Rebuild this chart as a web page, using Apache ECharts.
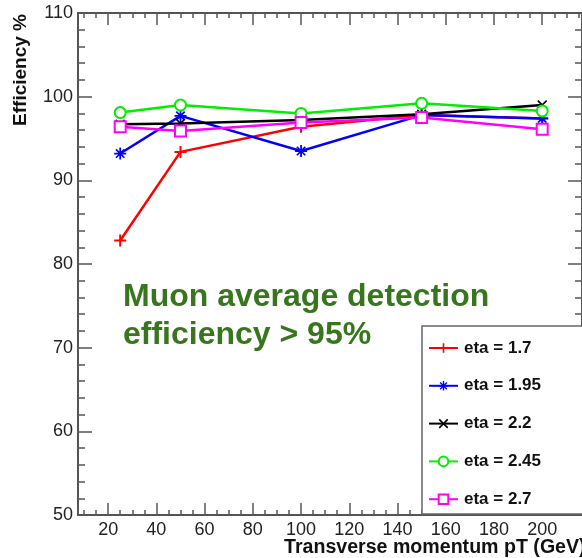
<!DOCTYPE html>
<html>
<head>
    <meta charset="utf-8">
    <title>Muon efficiency</title>
    <script src="https://cdn.jsdelivr.net/npm/echarts@6/dist/echarts.min.js"></script>
</head>
<body>
<div id="main"></div>
<style type="text/css">
    html, body {
        margin: 0px;
        padding: 0px;
        background: #fff
    }

    #main {
        width: 582px;
        height: 558px
    }
</style>

<script type="text/javascript">
    // data
    var momentum = [25, 50, 100, 150, 200];
    var eff17 = [82.8, 93.4, 96.4, 97.8, 97.4];
    var eff195 = [93.2, 97.7, 93.5, 97.8, 97.4];
    var eff22 = [96.7, 96.8, 97.2, 97.9, 99.0];
    var eff245 = [98.1, 99.0, 98.0, 99.2, 98.3];
    var eff27 = [96.4, 95.9, 96.9, 97.5, 96.1];
    var etaNames = ['eta = 1.7', 'eta = 1.95', 'eta = 2.2', 'eta = 2.45', 'eta = 2.7'];

    // tick labels
    var xMajor = [20, 40, 60, 80, 100, 120, 140, 160, 180, 200];
    var xMinor = [10, 15, 25, 30, 35, 45, 50, 55, 65, 70, 75, 85, 90, 95, 105, 110, 115,
        125, 130, 135, 145, 150, 155, 165, 170, 175, 185, 190, 195, 205, 210, 215];

    var FONT = '"Liberation Sans", Arial, Helvetica, sans-serif';
    var AXIS_COLOR = '#555';

    // marker shapes
    var plusPath = 'path://M5,0H7V5H12V7H7V12H5V7H0V5H5Z';
    var crossPath = 'path://M0,1.4L1.4,0L12,10.6L10.6,12ZM10.6,0L12,1.4L1.4,12L0,10.6Z';
    var starPath = 'path://M5.1,0H6.9V5.1H12V6.9H6.9V12H5.1V6.9H0V5.1H5.1Z' +
        'M1.2,2.4L2.4,1.2L10.8,9.6L9.6,10.8ZM9.6,1.2L10.8,2.4L2.4,10.8L1.2,9.6Z';

    function mkPoints(vals) {
        var res = [];
        for (var i = 0; i < momentum.length; i++) {
            res.push([momentum[i], vals[i]]);
        }
        return res;
    }

    function mkSeries(name, vals, color, symbol, size, bw) {
        return {
            name: name,
            type: 'line',
            data: mkPoints(vals),
            symbol: symbol,
            symbolSize: size,
            showAllSymbol: true,
            lineStyle: {color: color, width: 2.5},
            itemStyle: {color: color, borderColor: color, borderWidth: bw},
            emphasis: {disabled: true}
        };
    }

    function xAx(pos, vals, len, showLine, labels) {
        return {
            type: 'value',
            position: pos,
            min: 7.5,
            max: 216.5,
            axisLine: {show: showLine, lineStyle: {color: AXIS_COLOR, width: 2}},
            axisTick: {show: true, inside: true, length: len, customValues: vals,
                lineStyle: {color: AXIS_COLOR, width: 1.5}},
            axisLabel: labels ? {
                show: true, customValues: xMajor, margin: 6,
                fontSize: 18, color: '#222', fontFamily: FONT
            } : {show: false},
            splitLine: {show: false}
        };
    }

    function yAx(pos, labels) {
        return {
            type: 'value',
            position: pos,
            min: 50,
            max: 110,
            interval: 10,
            axisLine: {show: true, lineStyle: {color: AXIS_COLOR, width: 2}},
            axisTick: {show: true, inside: true, length: 14, lineStyle: {color: AXIS_COLOR, width: 1.5}},
            minorTick: {show: true, splitNumber: 5, length: 7, lineStyle: {color: AXIS_COLOR, width: 1.5}},
            axisLabel: labels ? {
                show: true, margin: 5, fontSize: 18, color: '#222', fontFamily: FONT
            } : {show: false},
            splitLine: {show: false},
            minorSplitLine: {show: false}
        };
    }

    var myChart = echarts.init(document.getElementById('main'), null, {renderer: 'canvas'});

    var option = {
        animation: false,
        backgroundColor: '#fff',
        grid: {left: 78, top: 13, width: 505, height: 502, containLabel: false},
        xAxis: [
            xAx('bottom', xMajor, 12, true, true),
            xAx('bottom', xMinor, 5, false, false),
            xAx('top', xMajor, 12, true, false),
            xAx('top', xMinor, 5, false, false)
        ],
        yAxis: [
            yAx('left', true),
            yAx('right', false)
        ],
        legend: {
            orient: 'vertical',
            left: 428,
            top: 339.5,
            padding: 0,
            itemGap: 20.8,
            itemWidth: 29,
            itemHeight: 12,
            z: 60,
            data: etaNames,
            textStyle: {fontSize: 17, fontWeight: 'bold', color: '#111', fontFamily: FONT, padding: [0, 0, 0, 1]}
        },
        graphic: [
            {
                type: 'rect', z: 50,
                shape: {x: 422, y: 326, width: 170, height: 188},
                style: {fill: '#fff', stroke: '#666', lineWidth: 1.5}
            },
            {
                type: 'text', x: 21, y: 14, rotation: Math.PI / 2,
                style: {
                    text: 'Efficiency %', fill: '#111', align: 'right', verticalAlign: 'middle',
                    font: 'bold 19px ' + FONT
                }
            },
            {
                type: 'text', x: 284, y: 548,
                style: {
                    text: 'Transverse momentum pT (GeV)', fill: '#111', align: 'left', verticalAlign: 'middle',
                    font: 'bold 19.6px ' + FONT
                }
            },
            {
                type: 'text', x: 123, y: 278,
                style: {
                    text: 'Muon average detection\nefficiency > 95%', fill: '#38761d',
                    align: 'left', verticalAlign: 'top', lineHeight: 38,
                    font: 'bold 32px ' + FONT
                }
            }
        ],
        series: [
            mkSeries(etaNames[0], eff17, '#ff0000', plusPath, 12, 0),
            mkSeries(etaNames[1], eff195, '#0000ff', starPath, 12, 0),
            mkSeries(etaNames[2], eff22, '#000000', crossPath, 10, 0),
            mkSeries(etaNames[3], eff245, '#00ee00', 'emptyCircle', 11, 2),
            mkSeries(etaNames[4], eff27, '#ff00ff', 'emptyRect', 11, 2)
        ]
    };

    myChart.setOption(option);
</script>
</body>
</html>
